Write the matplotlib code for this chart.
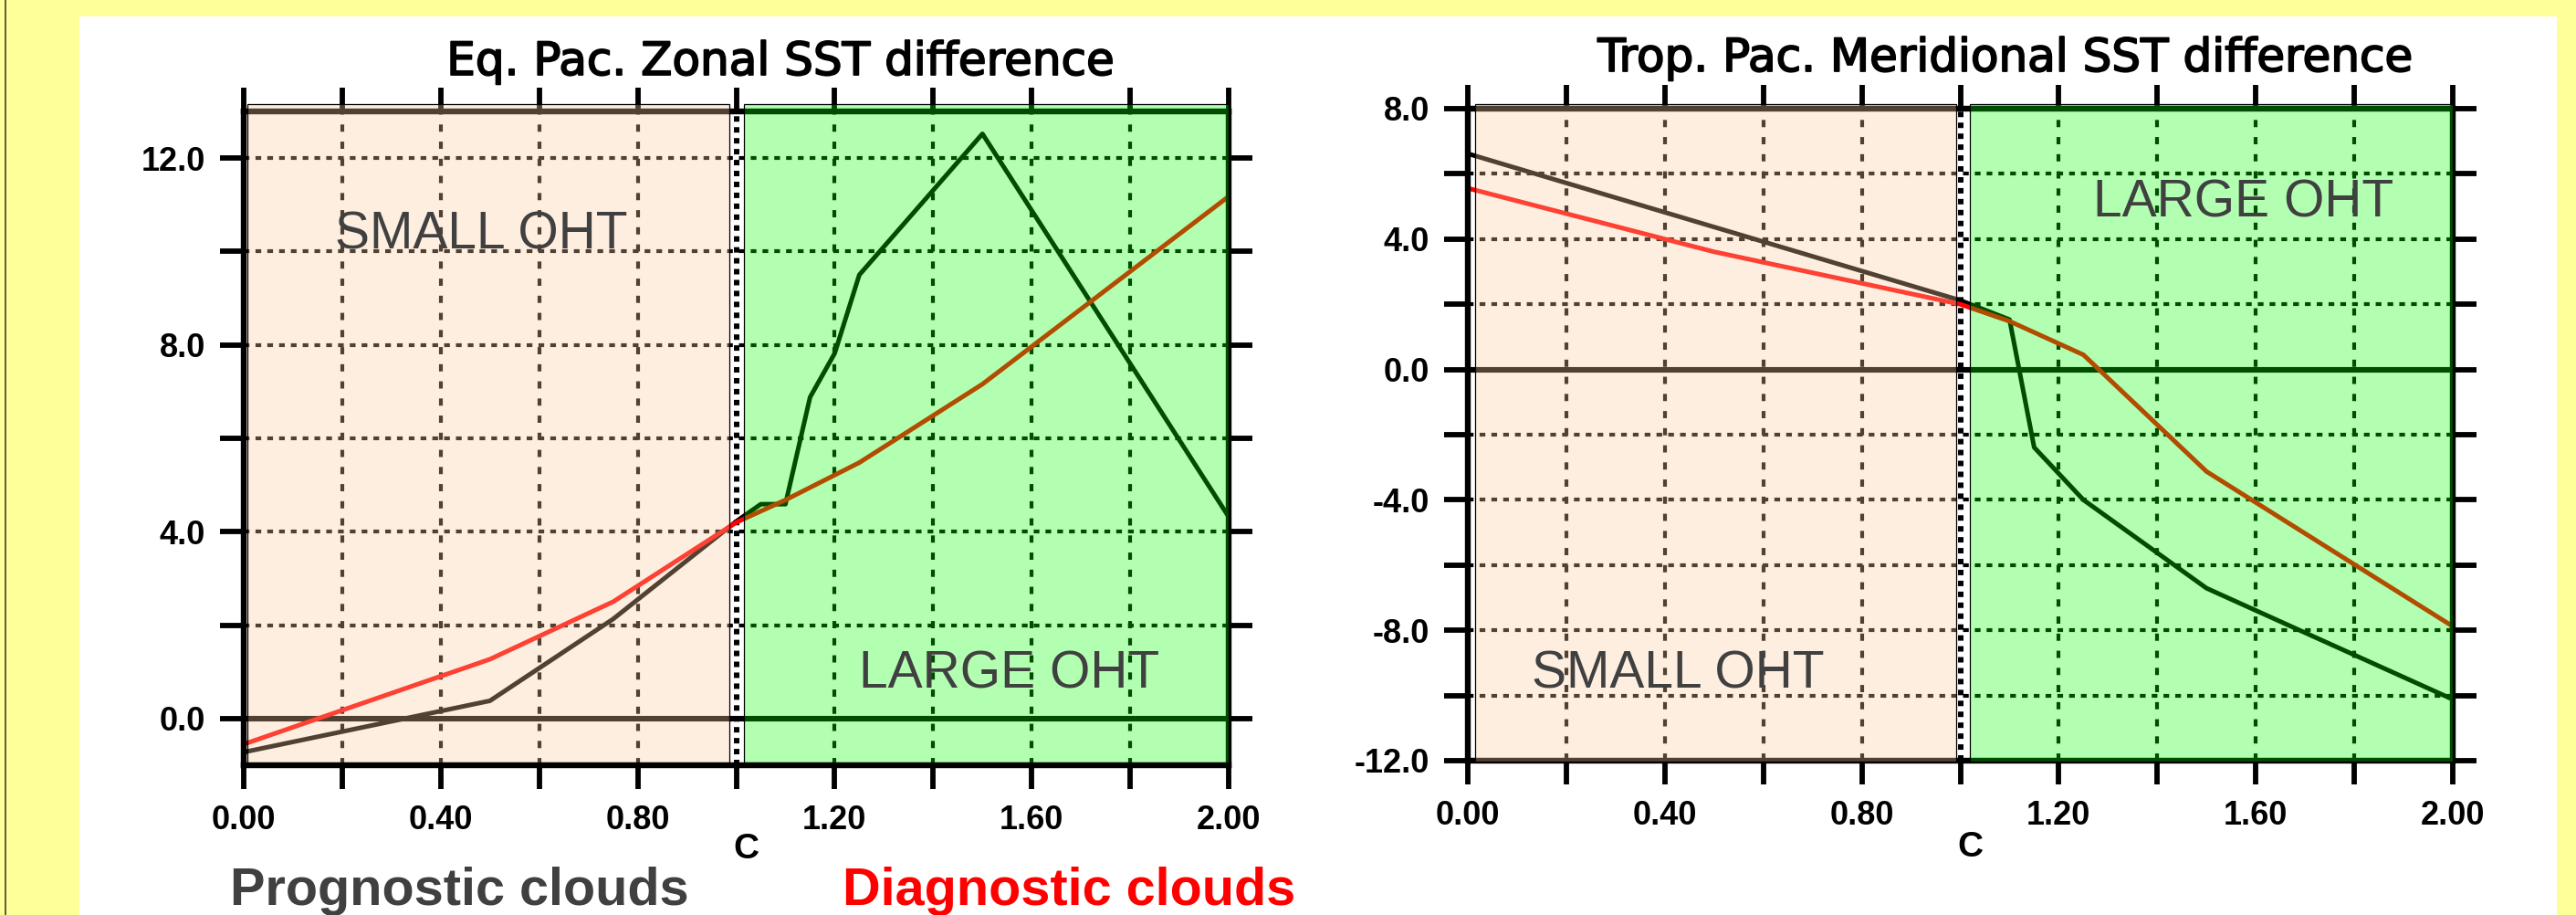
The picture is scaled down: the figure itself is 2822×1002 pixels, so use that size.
import numpy as np
import matplotlib
matplotlib.use("Agg")
import matplotlib.pyplot as plt
import matplotlib.patheffects as pe
from matplotlib.patches import Rectangle
from matplotlib.lines import Line2D

plt.rcParams["font.family"] = ["Liberation Sans", "DejaVu Sans"]

W, H, DPI = 2822, 1002, 100

# ── data ────────────────────────────────────────────────────────────────────
x_ticks = [0.0, 0.2, 0.4, 0.6, 0.8, 1.0, 1.2, 1.4, 1.6, 1.8, 2.0]
x_labels = ["0.00", "", "0.40", "", "0.80", "", "1.20", "", "1.60", "", "2.00"]

# Eq. Pac. zonal SST difference
zonal_c_prog = [0.0, 0.5, 0.75, 1.0, 1.05, 1.1, 1.15, 1.2, 1.25, 1.5, 2.0]
zonal_prog = [-0.72, 0.38, 2.13, 4.22, 4.59, 4.59, 6.88, 7.82, 9.5, 12.52, 4.32]
zonal_c_diag = [0.0, 0.5, 0.75, 1.0, 1.1, 1.25, 1.5, 2.0]
zonal_diag = [-0.55, 1.27, 2.5, 4.2, 4.68, 5.48, 7.16, 11.18]
zonal_yticks = [0, 2, 4, 6, 8, 10, 12]
zonal_ylabels = ["0.0", "", "4.0", "", "8.0", "", "12.0"]

# Trop. Pac. meridional SST difference
merid_c_prog = [0.0, 0.5, 1.0, 1.1, 1.15, 1.25, 1.5, 2.0]
merid_prog = [6.62, 4.37, 2.12, 1.53, -2.39, -4.0, -6.71, -10.12]
merid_c_diag = [0.0, 0.5, 1.0, 1.1, 1.25, 1.5, 2.0]
merid_diag = [5.56, 3.61, 2.0, 1.48, 0.45, -3.13, -7.88]
merid_yticks = [-12, -10, -8, -6, -4, -2, 0, 2, 4, 6, 8]
merid_ylabels = ["-12.0", "", "-8.0", "", "-4.0", "", "0.0", "", "4.0", "", "8.0"]

YELLOW = "#FFFF99"
PEACH = (250 / 255, 203 / 255, 159 / 255, 0.32)
GREEN = (0.0, 1.0, 0.0, 0.30)
TXT = "#404040"

fig = plt.figure(figsize=(W / DPI, H / DPI), dpi=DPI, facecolor=YELLOW)
fig.add_artist(Rectangle((87 / W, 0), (2801 - 87) / W, (H - 18) / H,
                         transform=fig.transFigure, facecolor="white",
                         edgecolor="none", zorder=0))
fig.add_artist(Line2D([6 / W, 6 / W], [0, 1], transform=fig.transFigure,
                      color="#5a5a3a", lw=1.4))


def panel(rect, ylim, yticks, ylabels, c_prog, prog, c_diag, diag,
          peach_x, green_x, shade_y, notes, xlab_y):
    ax = fig.add_axes(rect)
    ax.patch.set_alpha(0)
    ax.set_xlim(0, 2)
    ax.set_ylim(*ylim)

    # grid (black, then tinted by the translucent boxes)
    for x in x_ticks[1:-1]:
        if x == 1.0:
            ax.axvline(x, color="k", lw=4.3, dashes=(1.0, 1.0), zorder=1.5)
        else:
            ax.axvline(x, color="k", lw=3.0, dashes=(1.9, 2.6), zorder=1.5)
    for y in yticks:
        if y in (0, ylim[0], ylim[1]):
            continue
        ax.axhline(y, color="k", lw=3.0, dashes=(1.5, 1.6), zorder=1.5)
    ax.axhline(0, color="k", lw=4.4, zorder=1.6)

    ax.plot(c_prog, prog, color="k", lw=3.6, zorder=2)
    ax.plot(c_diag, diag, color="red", lw=3.6, zorder=2.1)

    for (x0, x1), fc in ((peach_x, PEACH), (green_x, GREEN)):
        ax.add_patch(Rectangle((x0, shade_y[0]), x1 - x0, shade_y[1] - shade_y[0],
                               facecolor=fc, edgecolor="k", lw=0.9,
                               clip_on=False, zorder=3))

    for s in ax.spines.values():
        s.set_linewidth(4.6)
        s.set_zorder(2.5)

    ax.set_xticks(x_ticks)
    ax.set_xticklabels(x_labels)
    ax.set_yticks(yticks)
    ax.set_yticklabels(ylabels)
    ax.tick_params(direction="out", length=19, width=4.2, top=True, right=True,
                   labelsize=26, pad=12)
    ax.tick_params(axis="y", pad=11)
    for lab in ax.get_xticklabels() + ax.get_yticklabels():
        lab.set_fontweight("bold")

    ax.set_xlabel("C", fontsize=28, fontweight="bold")
    ax.xaxis.label.set_va("center")
    ax.xaxis.set_label_coords(0.51, xlab_y)

    for (x, y, s) in notes:
        ax.text(x, y, s, ha="center", va="baseline", fontsize=41,
                color=TXT, zorder=4)
    return ax


panel([267 / W, (H - 838) / H, 1079 / W, 716 / H], (-1, 13),
      zonal_yticks, zonal_ylabels, zonal_c_prog, zonal_prog,
      zonal_c_diag, zonal_diag,
      (0.007, 0.986), (1.016, 2.0), (-0.94, 13.16),
      [(0.482, 10.06, "SMALL OHT"), (1.555, 0.66, "LARGE OHT")], -0.128)

panel([1608 / W, (H - 833) / H, 1079 / W, 714 / H], (-12, 8),
      merid_yticks, merid_ylabels, merid_c_prog, merid_prog,
      merid_c_diag, merid_diag,
      (0.015, 0.992), (1.019, 2.0), (-12.03, 8.14),
      [(1.574, 4.69, "LARGE OHT"), (0.426, -9.76, "SMALL OHT")], -0.133)

stroke = [pe.withStroke(linewidth=1.3, foreground="black")]
fig.text(855 / W, 1 - 82 / H, "Eq. Pac. Zonal SST difference", ha="center",
         va="baseline", fontsize=36, family="DejaVu Sans", path_effects=stroke)
fig.text(2197 / W, 1 - 78 / H, "Trop. Pac. Meridional SST difference",
         ha="center", va="baseline", fontsize=36, family="DejaVu Sans",
         path_effects=stroke)

fig.text(252 / W, (H - 991) / H, "Prognostic clouds", ha="left", va="baseline",
         fontsize=41.5, fontweight="bold", color=TXT)
fig.text(923 / W, (H - 991) / H, "Diagnostic clouds", ha="left", va="baseline",
         fontsize=41.5, fontweight="bold", color="#FF0000")

fig.savefig("out.png", dpi=DPI, facecolor=YELLOW)
